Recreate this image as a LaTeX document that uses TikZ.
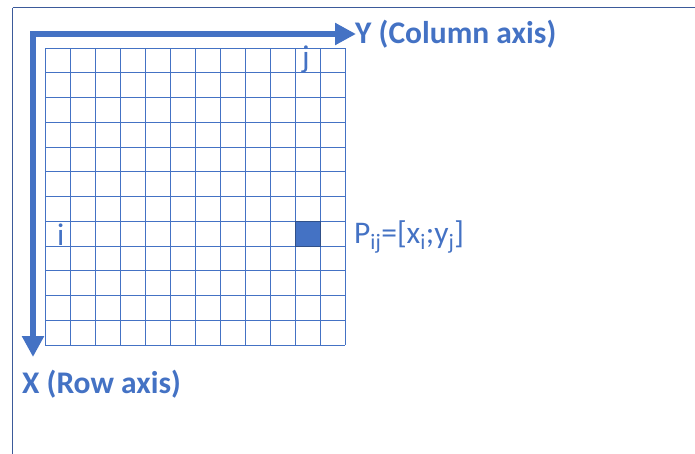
\documentclass[tikz,border=0pt]{standalone}
\usepackage{fontspec}
\setmainfont{Carlito}
\usetikzlibrary{arrows.meta}
\definecolor{axisblue}{HTML}{4472C4}
\definecolor{framecol}{HTML}{3B5A9A}
\tikzset{
  gridline/.style={draw=axisblue, line width=0.9pt},
  axisline/.style={draw=axisblue, line width=6pt, line join=miter,
    {Triangle[length=21pt,width=21pt]}-{Triangle[length=21pt,width=21pt]}},
  axislabel/.style={text=axisblue, font=\bfseries\fontsize{31.5}{31.5}\selectfont, inner sep=0pt},
  plainlabel/.style={text=axisblue, font=\fontsize{31.5}{31.5}\selectfont, inner sep=0pt},
}
\begin{document}
\begin{tikzpicture}[x=1pt,y=-1pt]
\useasboundingbox (0,0) rectangle (695,453);
% frame
\draw[draw=framecol, line width=1.6pt] (12.5,7.5) -- (700,7.5);
\draw[draw=framecol, line width=1.6pt] (12.5,7.5) -- (12.5,460);
% grid
\foreach \c in {0,...,12} {
  \draw[gridline] ({45+25*\c},48) -- ({45+25*\c},345);
}
\foreach \r in {0,...,12} {
  \draw[gridline] (45,{48+24.75*\r}) -- (345,{48+24.75*\r});
}
% highlighted cell
\node[draw=axisblue!70!black, fill=axisblue, line width=1pt, minimum width=25pt, minimum height=24.75pt, inner sep=0pt, anchor=north west] (pcell) at (295,221.25) {};
% axes
\coordinate (origin) at (33,34);
\coordinate (xend) at (33,357);
\coordinate (yend) at (356,34);
\draw[axisline] (xend) -- (origin) -- (yend);
% labels
\node[axislabel, anchor=base west] (ylab) at (355,43) {Y (Column axis)};
\node[axislabel, anchor=base west] (xlab) at (22,393) {X (Row axis)};
\node[plainlabel, anchor=base west] (jlab) at (302,67) {j};
\node[plainlabel, anchor=base west] (ilab) at (57,245) {i};
\node[plainlabel, anchor=base west] (plab) at (354,243) {P\textsubscript{ij}=[x\textsubscript{i};y\textsubscript{j}]};
\end{tikzpicture}
\end{document}
